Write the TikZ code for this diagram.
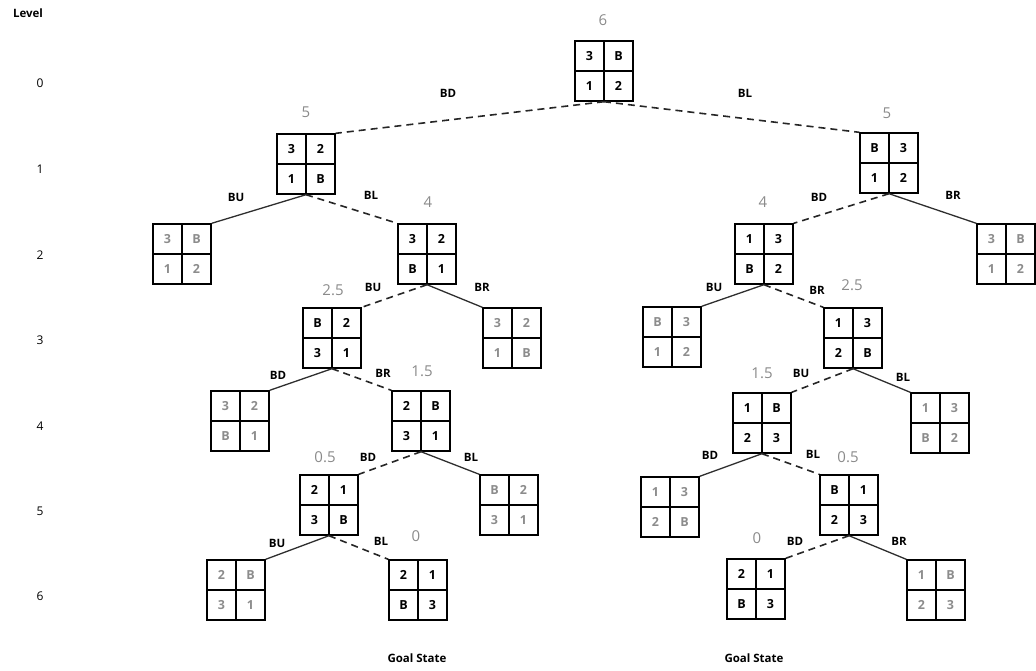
\documentclass[tikz,border=0pt]{standalone}
\usepackage{fontspec}
\setmainfont{Open Sans}
\definecolor{hgray}{HTML}{8A8A8A}
\definecolor{tgray}{HTML}{8C8C8C}
\definecolor{lgray}{HTML}{2E2E2E}
\tikzset{
  pbox/.style={draw, line width=1.4pt, minimum width=58pt, minimum height=60pt, inner sep=0pt},
  cell/.style={font=\fontsize{12.5}{12.5}\selectfont\bfseries, inner sep=0pt},
  hval/.style={font=\fontsize{15}{15}\selectfont, text=hgray, inner sep=0pt},
  elab/.style={font=\fontsize{11.5}{11.5}\selectfont\bfseries, inner sep=0pt},
  lvl/.style={font=\fontsize{12}{12}\selectfont, inner sep=0pt},
  dashedge/.style={line width=1.6pt, dash pattern=on 7pt off 5pt, draw=black!85},
  solidedge/.style={line width=1.3pt, draw=lgray},
}
\newcommand\puz[8]{%
  \node[pbox] (#1) at (#2,#3) {};
  \draw[line width=1.1pt] (#1.north) -- (#1.south) (#1.west) -- (#1.east);
  \node[cell,text=#8] at ([shift={(-14.5,-15)}]#1.center) {#4};
  \node[cell,text=#8] at ([shift={(14.5,-15)}]#1.center) {#5};
  \node[cell,text=#8] at ([shift={(-14.5,15)}]#1.center) {#6};
  \node[cell,text=#8] at ([shift={(14.5,15)}]#1.center) {#7};
}
\begin{document}
\begin{tikzpicture}[x=1pt,y=-1pt]
\useasboundingbox (0,0) rectangle (1036,670);
% level labels
\node[lvl,font=\fontsize{11.5}{11.5}\selectfont\bfseries] (lv) at (28,13) {Level};
\node[lvl] (l0) at (40,83) {0};
\node[lvl] (l1) at (40,169) {1};
\node[lvl] (l2) at (40,255) {2};
\node[lvl] (l3) at (40,340) {3};
\node[lvl] (l4) at (40,426) {4};
\node[lvl] (l5) at (40,511) {5};
\node[lvl] (l6) at (40,596) {6};
% puzzles
\puz{r0}{604}{71}{3}{B}{1}{2}{black}
\puz{a1}{306}{164}{3}{2}{1}{B}{black}
\puz{b1}{889}{163}{B}{3}{1}{2}{black}
\puz{a2g}{182}{254}{3}{B}{1}{2}{tgray}
\puz{a2}{427}{254}{3}{2}{B}{1}{black}
\puz{b2}{764}{254}{1}{3}{B}{2}{black}
\puz{b2g}{1006}{254}{3}{B}{1}{2}{tgray}
\puz{a3}{332}{338}{B}{2}{3}{1}{black}
\puz{a3g}{512}{338}{3}{2}{1}{B}{tgray}
\puz{b3g}{672}{337}{B}{3}{1}{2}{tgray}
\puz{b3}{853}{338}{1}{3}{2}{B}{black}
\puz{a4g}{240}{421}{3}{2}{B}{1}{tgray}
\puz{a4}{421}{421}{2}{B}{3}{1}{black}
\puz{b4}{762}{423}{1}{B}{2}{3}{black}
\puz{b4g}{940}{423}{1}{3}{B}{2}{tgray}
\puz{a5}{329}{505}{2}{1}{3}{B}{black}
\puz{a5g}{509}{505}{B}{2}{3}{1}{tgray}
\puz{b5g}{670}{507}{1}{3}{2}{B}{tgray}
\puz{b5}{849}{505}{B}{1}{2}{3}{black}
\puz{a6g}{236}{590}{2}{B}{3}{1}{tgray}
\puz{a6}{418}{590}{2}{1}{B}{3}{black}
\puz{b6}{756}{589}{2}{1}{B}{3}{black}
\puz{b6g}{936}{590}{1}{B}{2}{3}{tgray}
% heuristic values
\node[hval] (h0) at (603,20) {6};
\node[hval] (ha1) at (306,112) {5};
\node[hval] (hb1) at (887,113) {5};
\node[hval] (ha2) at (428,202) {4};
\node[hval] (hb2) at (763,202) {4};
\node[hval] (ha3) at (333,290) {2.5};
\node[hval] (hb3) at (852,285) {2.5};
\node[hval] (ha4) at (422,371) {1.5};
\node[hval] (hb4) at (762,373) {1.5};
\node[hval] (ha5) at (325,457) {0.5};
\node[hval] (hb5) at (848,457) {0.5};
\node[hval] (ha6) at (416,536) {0};
\node[hval] (hb6) at (757,538) {0};
% edges
\draw[dashedge] (r0.south) -- (a1.north east);
\draw[dashedge] (r0.south) -- (b1.north west);
\draw[solidedge] (a1.south) -- (a2g.north east);
\draw[dashedge] (a1.south) -- (a2.north west);
\draw[dashedge] (b1.south) -- (b2.north east);
\draw[solidedge] (b1.south) -- (b2g.north west);
\draw[dashedge] (a2.south) -- (a3.north east);
\draw[solidedge] (a2.south) -- (a3g.north west);
\draw[solidedge] (b2.south) -- (b3g.north east);
\draw[dashedge] (b2.south) -- (b3.north west);
\draw[solidedge] (a3.south) -- (a4g.north east);
\draw[dashedge] (a3.south) -- (a4.north west);
\draw[dashedge] (b3.south) -- (b4.north east);
\draw[solidedge] (b3.south) -- (b4g.north west);
\draw[dashedge] (a4.south) -- (a5.north east);
\draw[solidedge] (a4.south) -- (a5g.north west);
\draw[solidedge] (b4.south) -- (b5g.north east);
\draw[dashedge] (b4.south) -- (b5.north west);
\draw[solidedge] (a5.south) -- (a6g.north east);
\draw[dashedge] (a5.south) -- (a6.north west);
\draw[dashedge] (b5.south) -- (b6.north east);
\draw[solidedge] (b5.south) -- (b6g.north west);
% edge labels
\node[elab] (e1) at (448,93) {BD};
\node[elab] (e2) at (745,93) {BL};
\node[elab] (e3) at (236,197) {BU};
\node[elab] (e4) at (371,195) {BL};
\node[elab] (e5) at (819,197) {BD};
\node[elab] (e6) at (953,195) {BR};
\node[elab] (e7) at (373,287) {BU};
\node[elab] (e8) at (482,287) {BR};
\node[elab] (e9) at (714,287) {BU};
\node[elab] (e10) at (817,290) {BR};
\node[elab] (e11) at (278,375) {BD};
\node[elab] (e12) at (383,373) {BR};
\node[elab] (e13) at (801,373) {BU};
\node[elab] (e14) at (903,377) {BL};
\node[elab] (e15) at (368,457) {BD};
\node[elab] (e16) at (471,457) {BL};
\node[elab] (e17) at (710,455) {BD};
\node[elab] (e18) at (813,454) {BL};
\node[elab] (e19) at (277,543) {BU};
\node[elab] (e20) at (381,541) {BL};
\node[elab] (e21) at (795,541) {BD};
\node[elab] (e22) at (899,541) {BR};
% goal labels
\node[elab] (g1) at (417,658) {Goal State};
\node[elab] (g2) at (754,658) {Goal State};
\end{tikzpicture}
\end{document}
